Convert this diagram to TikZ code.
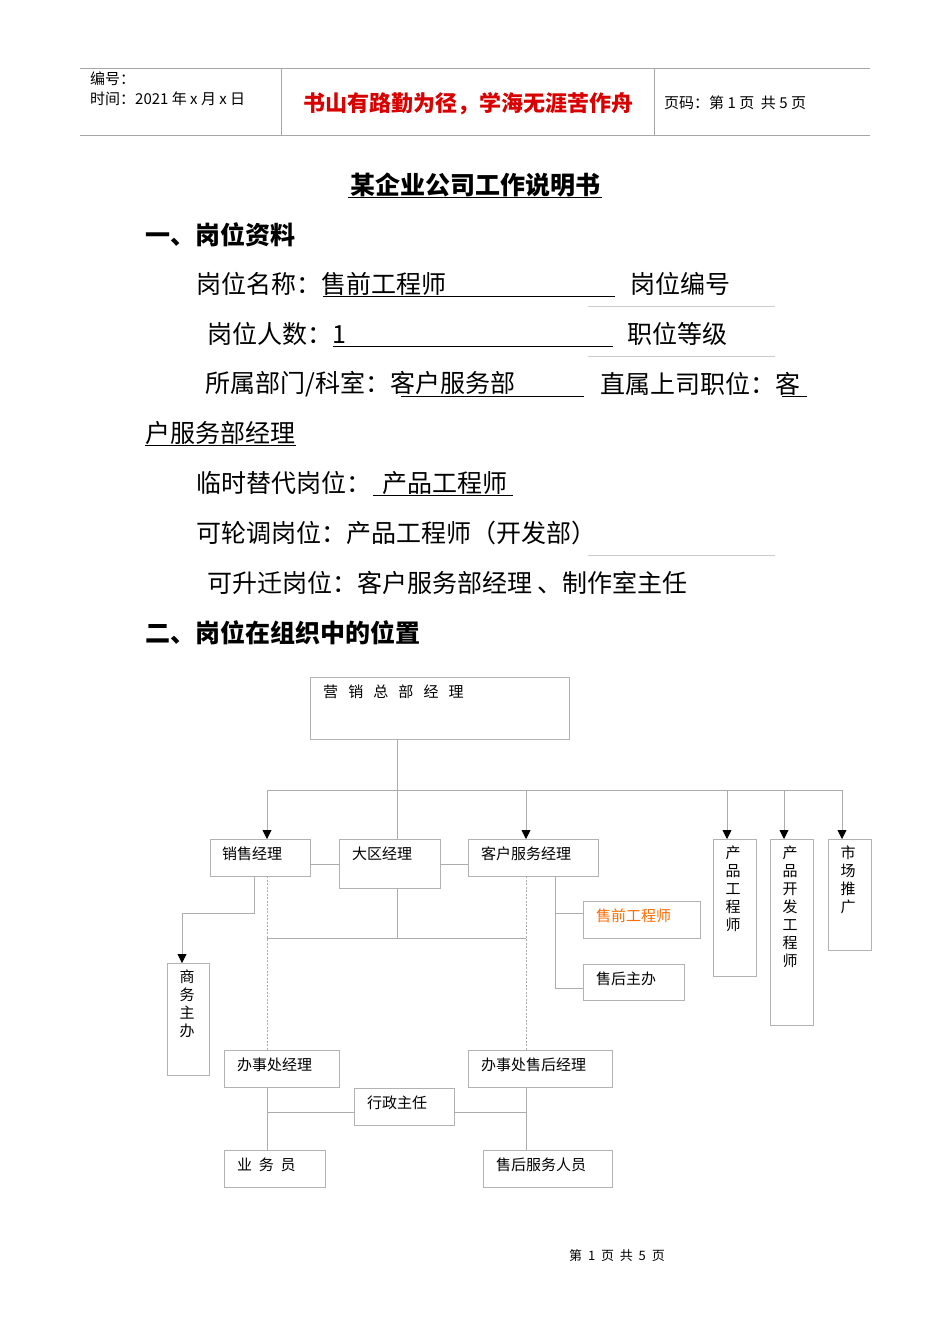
\documentclass[tikz,border=0pt]{standalone}
\usepackage{fontspec}
\setmainfont{Noto Sans CJK SC}
\usetikzlibrary{arrows.meta}
\tikzset{
 box/.style={draw=gray!60,line width=0.8pt,inner sep=0pt},
 ln/.style={draw=gray!65,line width=0.8pt},
 dl/.style={draw=gray!65,line width=0.6pt,dash pattern=on 2pt off 1.5pt},
 arr/.style={ln,-{Triangle[length=9pt,width=9pt,fill=black,color=black]}},
 bt/.style={anchor=west,font=\fontsize{25}{27}\selectfont,inner sep=0pt},
 ct/.style={anchor=north west,font=\fontsize{15}{17}\selectfont,inner sep=0pt},
 vt/.style={anchor=north,font=\fontsize{15}{18}\selectfont,inner sep=0pt,align=center},
 ul/.style={draw=black,line width=1pt},
 gl/.style={draw=gray!40,line width=0.8pt}
}
\begin{document}
\begin{tikzpicture}[x=1pt,y=-1pt]
\useasboundingbox[fill=white] (0,0) rectangle (950,1344);
% header
\draw[draw=gray!70,line width=0.8pt] (80,68) -- (870,68) (80,135) -- (870,135) (281,68) -- (281,135) (654,68) -- (654,135);
\node[anchor=west,inner sep=0pt,font=\fontsize{15}{17}\selectfont] (h1) at (90,79) {编号：};
\node[anchor=west,inner sep=0pt,font=\fontsize{15}{17}\selectfont] (h2) at (90,99) {时间：2021 年 x 月 x 日};
\node[inner sep=0pt,font=\fontsize{22}{24}\selectfont\bfseries,text=red!85!black] (h3) at (468,104) {书山有路勤为径，学海无涯苦作舟};
\node[anchor=west,inner sep=0pt,font=\fontsize{15}{17}\selectfont] (h4) at (664,103) {页码：第 1 页\ \ 共 5 页};
% title
\node[inner sep=0pt,font=\fontsize{25}{27}\selectfont\bfseries] (title) at (475,185) {某企业公司工作说明书};
\draw[ul] (348,197) -- (602,197);
\node[bt,font=\fontsize{25}{27}\selectfont\bfseries] (s1) at (145,235) {一、岗位资料};
% fields
\node[bt] (f1) at (196,284) {岗位名称：售前工程师};
\draw[ul] (323,296) -- (615,296);
\node[bt] (f1b) at (630,284) {岗位编号};
\draw[gl] (588,306) -- (775,306);
\node[bt] (f2) at (207,334) {岗位人数：1};
\draw[ul] (333,346) -- (613,346);
\node[bt] (f2b) at (627,334) {职位等级};
\draw[gl] (588,356) -- (775,356);
\node[bt] (f3) at (205,384) {所属部门/科室：客户服务部};
\draw[ul] (401,396) -- (584,396);
\node[bt] (f3b) at (600,384) {直属上司职位：客};
\draw[ul] (782,396) -- (807,396);
\node[bt] (f3c) at (145,433) {户服务部经理};
\draw[ul] (145,445) -- (296,445);
\node[bt] (f4) at (196,483) {临时替代岗位：\ \ 产品工程师};
\draw[ul] (373,495) -- (513,495);
\node[bt] (f5) at (196,533) {可轮调岗位：产品工程师（开发部）};
\draw[gl] (588,555) -- (775,555);
\node[bt] (f6) at (207,583) {可升迁岗位：客户服务部经理 、制作室主任};
\node[bt,font=\fontsize{25}{27}\selectfont\bfseries] (s2) at (145,633) {二、岗位在组织中的位置};
% org chart boxes
\draw[box] (310,677) rectangle (569,739);
\node[ct] (top) at (323,685) {营\ \ \ 销\ \ \ 总\ \ \ 部\ \ \ 经\ \ \ 理};
\draw[box] (210,839) rectangle (310,876); \node[ct] (xs) at (222,847) {销售经理};
\draw[box] (339,839) rectangle (440,888); \node[ct] (dq) at (352,847) {大区经理};
\draw[box] (468,839) rectangle (598,876); \node[ct] (kf) at (481,847) {客户服务经理};
\draw[box] (713,839) rectangle (756,976); \node[vt] (cp) at (733,846) {产\\品\\工\\程\\师};
\draw[box] (770,839) rectangle (813,1025); \node[vt] (kfgc) at (790,846) {产\\品\\开\\发\\工\\程\\师};
\draw[box] (828,839) rectangle (871,950); \node[vt] (sc) at (848,846) {市\\场\\推\\广};
\draw[box] (583,901) rectangle (700,938); \node[ct,text=orange!85!red] (sq) at (596,909) {售前工程师};
\draw[box] (583,964) rectangle (684,1000); \node[ct] (sh) at (596,972) {售后主办};
\draw[box] (167,963) rectangle (209,1075); \node[vt] (sw) at (187,970) {商\\务\\主\\办};
\draw[box] (224,1050) rectangle (339,1087); \node[ct] (bs) at (237,1058) {办事处经理};
\draw[box] (468,1050) rectangle (612,1087); \node[ct] (bsh) at (481,1058) {办事处售后经理};
\draw[box] (354,1088) rectangle (454,1125); \node[ct] (xz) at (367,1096) {行政主任};
\draw[box] (224,1150) rectangle (325,1187); \node[ct] (yw) at (237,1158) {业\ \ 务\ \ 员};
\draw[box] (483,1150) rectangle (612,1187); \node[ct] (shfw) at (496,1158) {售后服务人员};
% connectors
\draw[ln] (397,739) -- (397,839);
\draw[ln] (267,790) -- (842,790);
\foreach \x in {267,526,727,784,842} \draw[arr] (\x,790) -- (\x,839);
\draw[ln] (310,864) -- (339,864) (440,864) -- (468,864);
\draw[ln] (254,876) -- (254,913) -- (182,913);
\draw[arr] (182,913) -- (182,963);
\draw[dl] (267,876) -- (267,1050) (526,876) -- (526,1050);
\draw[ln] (397,888) -- (397,938) (267,938) -- (526,938);
\draw[ln] (555,876) -- (555,988) (555,913) -- (583,913) (555,988) -- (583,988);
\draw[ln] (267,1087) -- (267,1150) (526,1087) -- (526,1150);
\draw[ln] (267,1112) -- (354,1112) (454,1112) -- (526,1112);
% footer
\node[inner sep=0pt,font=\fontsize{13}{15}\selectfont] (ft) at (617,1256) {第\ \ 1\ \ 页\ \ 共\ \ 5\ \ 页};
\end{tikzpicture}
\end{document}
